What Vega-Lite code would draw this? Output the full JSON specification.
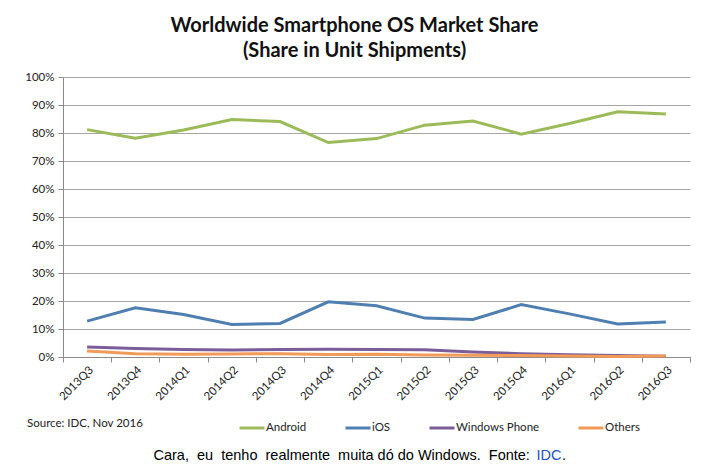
{
  "$schema": "https://vega.github.io/schema/vega-lite/v6.json",
  "autosize": {"type": "none"},
  "width": 627,
  "height": 280,
  "padding": {"left": 63, "top": 77, "right": 18, "bottom": 112},
  "background": "white",
  "title": {
    "text": ["Worldwide Smartphone OS Market Share", "(Share in Unit Shipments)"],
    "font": "Lato",
    "fontSize": 20,
    "fontWeight": "bold",
    "color": "#111111",
    "lineHeight": 25,
    "anchor": "middle",
    "dx": -22,
    "offset": 10
  },
  "config": {
    "view": {"stroke": null},
    "axis": {"labelFont": "Lato", "labelFontSize": 11.5, "labelColor": "#222222"}
  },
  "data": {
    "values": [
      {"q": "2013Q3", "os": "Android", "v": 81.2}, {"q": "2013Q4", "os": "Android", "v": 78.1}, {"q": "2014Q1", "os": "Android", "v": 81.1}, {"q": "2014Q2", "os": "Android", "v": 84.8}, {"q": "2014Q3", "os": "Android", "v": 84.1}, {"q": "2014Q4", "os": "Android", "v": 76.6}, {"q": "2015Q1", "os": "Android", "v": 78.0}, {"q": "2015Q2", "os": "Android", "v": 82.8}, {"q": "2015Q3", "os": "Android", "v": 84.3}, {"q": "2015Q4", "os": "Android", "v": 79.6}, {"q": "2016Q1", "os": "Android", "v": 83.4}, {"q": "2016Q2", "os": "Android", "v": 87.6}, {"q": "2016Q3", "os": "Android", "v": 86.8},
      {"q": "2013Q3", "os": "iOS", "v": 12.8}, {"q": "2013Q4", "os": "iOS", "v": 17.6}, {"q": "2014Q1", "os": "iOS", "v": 15.2}, {"q": "2014Q2", "os": "iOS", "v": 11.6}, {"q": "2014Q3", "os": "iOS", "v": 12.0}, {"q": "2014Q4", "os": "iOS", "v": 19.7}, {"q": "2015Q1", "os": "iOS", "v": 18.3}, {"q": "2015Q2", "os": "iOS", "v": 13.9}, {"q": "2015Q3", "os": "iOS", "v": 13.4}, {"q": "2015Q4", "os": "iOS", "v": 18.7}, {"q": "2016Q1", "os": "iOS", "v": 15.4}, {"q": "2016Q2", "os": "iOS", "v": 11.8}, {"q": "2016Q3", "os": "iOS", "v": 12.5},
      {"q": "2013Q3", "os": "Windows Phone", "v": 3.6}, {"q": "2013Q4", "os": "Windows Phone", "v": 3.0}, {"q": "2014Q1", "os": "Windows Phone", "v": 2.7}, {"q": "2014Q2", "os": "Windows Phone", "v": 2.5}, {"q": "2014Q3", "os": "Windows Phone", "v": 2.7}, {"q": "2014Q4", "os": "Windows Phone", "v": 2.8}, {"q": "2015Q1", "os": "Windows Phone", "v": 2.7}, {"q": "2015Q2", "os": "Windows Phone", "v": 2.6}, {"q": "2015Q3", "os": "Windows Phone", "v": 1.8}, {"q": "2015Q4", "os": "Windows Phone", "v": 1.2}, {"q": "2016Q1", "os": "Windows Phone", "v": 0.8}, {"q": "2016Q2", "os": "Windows Phone", "v": 0.5}, {"q": "2016Q3", "os": "Windows Phone", "v": 0.3},
      {"q": "2013Q3", "os": "Others", "v": 2.1}, {"q": "2013Q4", "os": "Others", "v": 1.2}, {"q": "2014Q1", "os": "Others", "v": 1.0}, {"q": "2014Q2", "os": "Others", "v": 1.1}, {"q": "2014Q3", "os": "Others", "v": 1.2}, {"q": "2014Q4", "os": "Others", "v": 0.9}, {"q": "2015Q1", "os": "Others", "v": 1.0}, {"q": "2015Q2", "os": "Others", "v": 0.7}, {"q": "2015Q3", "os": "Others", "v": 0.6}, {"q": "2015Q4", "os": "Others", "v": 0.5}, {"q": "2016Q1", "os": "Others", "v": 0.4}, {"q": "2016Q2", "os": "Others", "v": 0.2}, {"q": "2016Q3", "os": "Others", "v": 0.4}
    ]
  },
  "encoding": {
    "y": {
      "field": "v", "type": "quantitative",
      "scale": {"domain": [0, 100], "nice": false},
      "axis": {
        "title": null, "values": [0,10,20,30,40,50,60,70,80,90,100],
        "labelExpr": "datum.value + '%'",
        "domainColor": "#8a8a8a", "tickColor": "#8a8a8a", "tickSize": 5, "labelPadding": 4,
        "gridColor": "#a6a6a6", "gridWidth": 1
      }
    },
    "color": {
      "field": "os", "type": "nominal",
      "scale": {"domain": ["Android", "iOS", "Windows Phone", "Others"], "range": ["#9bbb59", "#4f7fb0", "#7b5e99", "#f29a57"]},
      "legend": {
        "orient": "none", "legendX": -36, "legendY": 337, "direction": "horizontal",
        "title": "Source: IDC, Nov 2016", "titleOrient": "left", "titleFont": "Lato", "titleFontSize": 11.5,
        "titleFontWeight": "normal", "titleColor": "#222222", "titlePadding": 94, "titleBaseline": "middle",
        "symbolType": "stroke", "symbolSize": 625, "symbolStrokeWidth": 3,
        "labelFont": "Lato", "labelFontSize": 11.5, "labelColor": "#222222", "labelOffset": 0, "columnPadding": 32
      }
    }
  },
  "layer": [
    {
      "transform": [{"filter": "datum.os != 'Others'"}],
      "mark": {"type": "line", "strokeWidth": 3},
      "encoding": {
        "x": {
          "field": "q", "type": "ordinal",
          "scale": {"type": "band", "paddingInner": 0, "paddingOuter": 0},
          "axis": {
            "orient": "bottom", "labelAngle": -45, "tickBand": "extent", "grid": false,
            "domainColor": "#8a8a8a", "tickColor": "#8a8a8a", "tickSize": 5,
            "title": "Cara,\u00a0 eu\u00a0 tenho\u00a0 realmente\u00a0 muita dó do Windows.\u00a0 Fonte:\u00a0\u00a0\u00a0\u00a0\u00a0\u00a0\u00a0\u00a0.",
            "titleFont": "Liberation Sans", "titleFontSize": 14.5, "titleFontWeight": "normal", "titleColor": "#000000",
            "titleAlign": "left", "titleBaseline": "alphabetic", "titleAnchor": null, "titleX": 90, "titleY": 102
          }
        }
      }
    },
    {
      "transform": [{"filter": "datum.os == 'Others'"}],
      "mark": {"type": "line", "strokeWidth": 3},
      "encoding": {
        "x": {
          "field": "q", "type": "ordinal",
          "scale": {"type": "band", "paddingInner": 0, "paddingOuter": 0},
          "axis": {
            "orient": "top", "domain": false, "ticks": false, "labels": false, "grid": false,
            "title": "IDC", "titleFont": "Liberation Sans", "titleFontSize": 14.5, "titleFontWeight": "normal",
            "titleColor": "#1f4fc0", "titleAlign": "left", "titleBaseline": "alphabetic", "titleAnchor": null,
            "titleX": 473, "titleY": 382
          }
        }
      }
    }
  ],
  "resolve": {"axis": {"x": "independent"}}
}
